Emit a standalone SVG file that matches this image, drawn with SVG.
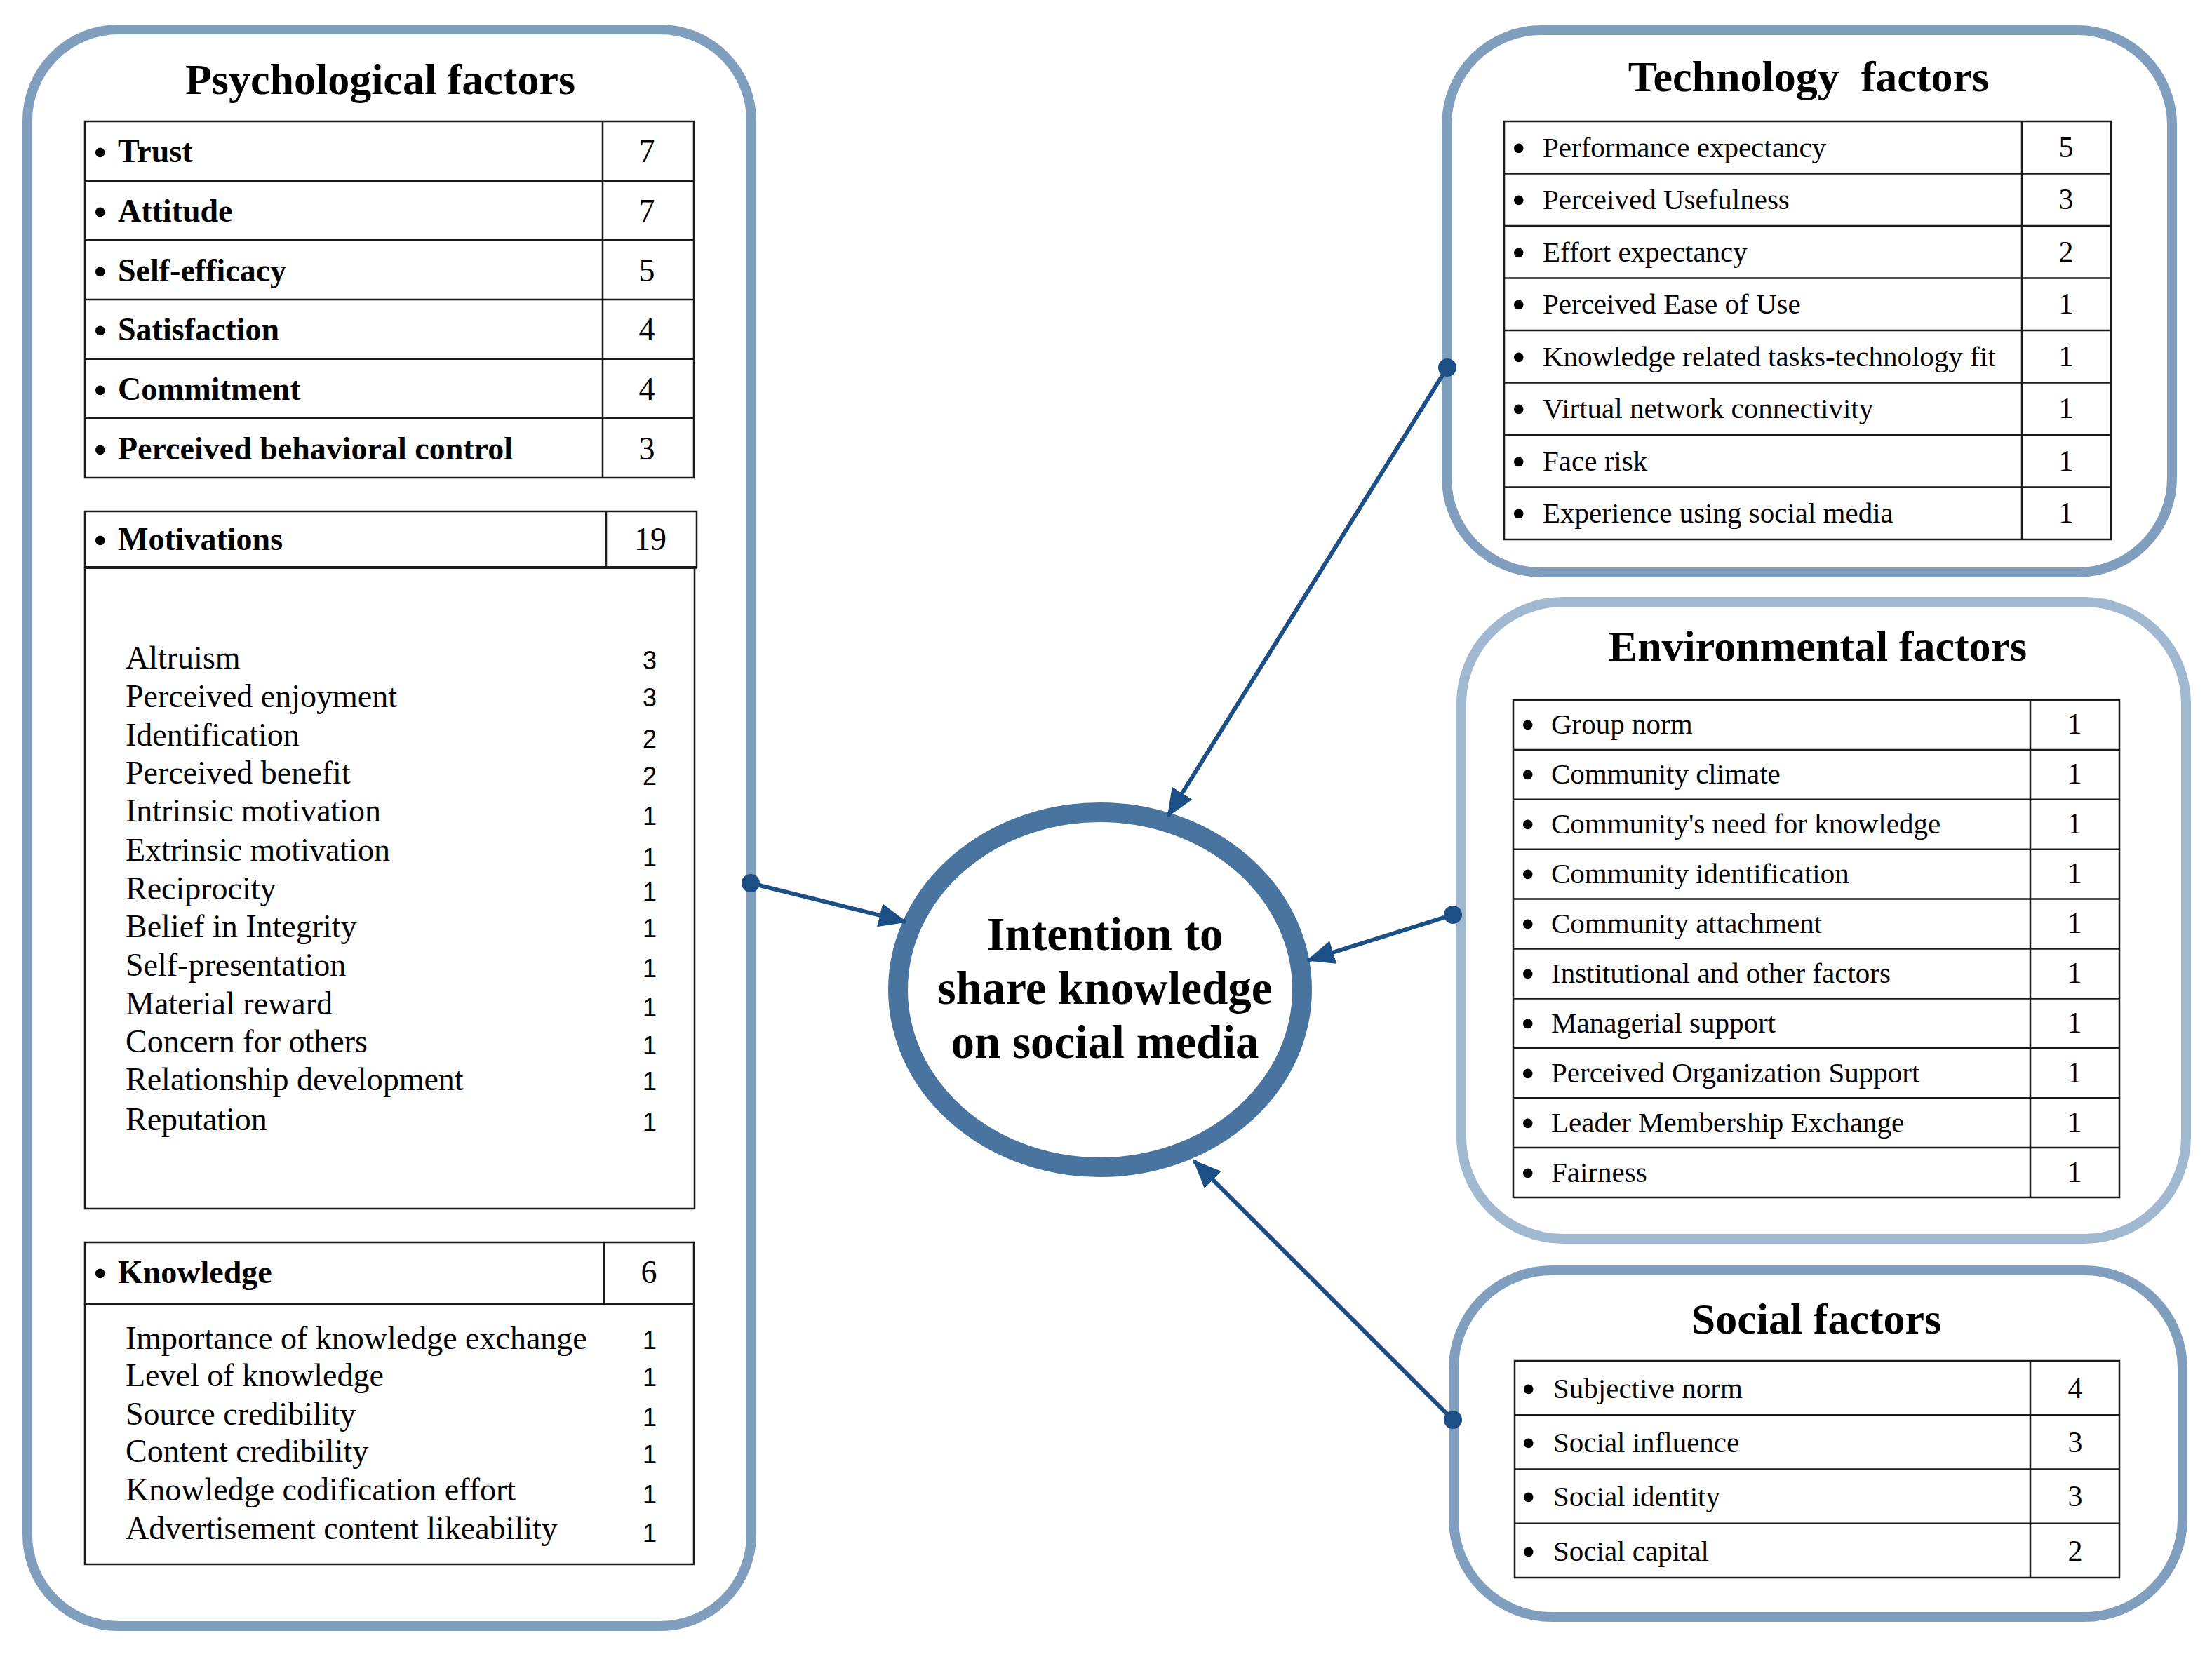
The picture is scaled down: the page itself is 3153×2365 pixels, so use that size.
<svg xmlns="http://www.w3.org/2000/svg" width="3153" height="2365" viewBox="0 0 3153 2365">
<style>
.box{fill:#fff;stroke:#809fbf;stroke-width:14}
.boxl{fill:#fff;stroke:#a0b9d1;stroke-width:14}
.tb{fill:none;stroke:#1a1a1a;stroke-width:2.5}
.hb{stroke:#1a1a1a;stroke-width:4}
.title{font-family:"Liberation Serif","Times New Roman",serif;font-weight:bold;font-size:62px;text-anchor:middle;fill:#000}
.mb{font-family:"Liberation Serif","Times New Roman",serif;font-weight:bold;font-size:46px;fill:#000}
.sub{font-family:"Liberation Serif","Times New Roman",serif;font-size:46px;fill:#000}
.subn{font-family:"Liberation Sans",Arial,sans-serif;font-size:36px;fill:#000;text-anchor:middle}
.num{font-family:"Liberation Serif","Times New Roman",serif;font-size:46px;fill:#000;text-anchor:middle}
.it{font-family:"Liberation Serif","Times New Roman",serif;font-size:41px;fill:#000}
.bu{font-size:50px;font-weight:bold}
.itn{font-family:"Liberation Serif","Times New Roman",serif;font-size:42px;fill:#000;text-anchor:middle}
.center{font-family:"Liberation Serif","Times New Roman",serif;font-weight:bold;font-size:67px;text-anchor:middle;fill:#000}
.conn{stroke:#1c4f85;stroke-width:6;fill:none}
.dot{fill:#1c4f85}
</style>
<defs>
<marker id="ah" markerUnits="userSpaceOnUse" markerWidth="40" markerHeight="34" refX="38" refY="17" orient="auto">
<path d="M0,0 L40,17 L0,34 z" fill="#1c4f85"/>
</marker>
</defs>

<g id="psychological">
<rect class="box" x="39" y="42" width="1032" height="2276" rx="130" ry="130"/>
<text class="title" x="542" y="134">Psychological factors</text>
<rect class="tb" x="121" y="173" width="868" height="508"/>
<line class="tb" x1="859" y1="173" x2="859" y2="681"/>
<line class="tb" x1="121" y1="257.7" x2="989" y2="257.7"/>
<line class="tb" x1="121" y1="342.3" x2="989" y2="342.3"/>
<line class="tb" x1="121" y1="427" x2="989" y2="427"/>
<line class="tb" x1="121" y1="511.7" x2="989" y2="511.7"/>
<line class="tb" x1="121" y1="596.3" x2="989" y2="596.3"/>
<text class="mb" y="231"><tspan x="134" dy="3" class="bu">•</tspan><tspan x="168" dy="-3">Trust</tspan></text>
<text class="mb" y="316"><tspan x="134" dy="3" class="bu">•</tspan><tspan x="168" dy="-3">Attitude</tspan></text>
<text class="mb" y="401"><tspan x="134" dy="3" class="bu">•</tspan><tspan x="168" dy="-3">Self-efficacy</tspan></text>
<text class="mb" y="485"><tspan x="134" dy="3" class="bu">•</tspan><tspan x="168" dy="-3">Satisfaction</tspan></text>
<text class="mb" y="570"><tspan x="134" dy="3" class="bu">•</tspan><tspan x="168" dy="-3">Commitment</tspan></text>
<text class="mb" y="655"><tspan x="134" dy="3" class="bu">•</tspan><tspan x="168" dy="-3">Perceived behavioral control</tspan></text>
<text class="num" x="922" y="231">7</text>
<text class="num" x="922" y="316">7</text>
<text class="num" x="922" y="401">5</text>
<text class="num" x="922" y="485">4</text>
<text class="num" x="922" y="570">4</text>
<text class="num" x="922" y="655">3</text>

<rect class="tb" x="121" y="729" width="872" height="80"/>
<line class="tb" x1="864" y1="729" x2="864" y2="809"/>
<rect class="tb" x="121" y="809" width="869" height="914"/>
<line class="hb" x1="121" y1="809" x2="993" y2="809"/>
<text class="mb" y="784"><tspan x="134" dy="3" class="bu">•</tspan><tspan x="168" dy="-3">Motivations</tspan></text>
<text class="num" x="927" y="784">19</text>
<text class="sub" x="179" y="953">Altruism</text>
<text class="sub" x="179" y="1008">Perceived enjoyment</text>
<text class="sub" x="179" y="1063">Identification</text>
<text class="sub" x="179" y="1117">Perceived benefit</text>
<text class="sub" x="179" y="1171">Intrinsic motivation</text>
<text class="sub" x="179" y="1227">Extrinsic motivation</text>
<text class="sub" x="179" y="1282">Reciprocity</text>
<text class="sub" x="179" y="1336">Belief in Integrity</text>
<text class="sub" x="179" y="1391">Self-presentation</text>
<text class="sub" x="179" y="1446">Material reward</text>
<text class="sub" x="179" y="1500">Concern for others</text>
<text class="sub" x="179" y="1554">Relationship development</text>
<text class="sub" x="179" y="1611">Reputation</text>
<text class="subn" x="926" y="954">3</text>
<text class="subn" x="926" y="1007">3</text>
<text class="subn" x="926" y="1066">2</text>
<text class="subn" x="926" y="1119">2</text>
<text class="subn" x="926" y="1176">1</text>
<text class="subn" x="926" y="1235">1</text>
<text class="subn" x="926" y="1284">1</text>
<text class="subn" x="926" y="1336">1</text>
<text class="subn" x="926" y="1393">1</text>
<text class="subn" x="926" y="1449">1</text>
<text class="subn" x="926" y="1503">1</text>
<text class="subn" x="926" y="1554">1</text>
<text class="subn" x="926" y="1612">1</text>

<rect class="tb" x="121" y="1771" width="868" height="88"/>
<line class="tb" x1="861" y1="1771" x2="861" y2="1859"/>
<rect class="tb" x="121" y="1859" width="868" height="371"/>
<line class="hb" x1="121" y1="1859" x2="989" y2="1859"/>
<text class="mb" y="1829"><tspan x="134" dy="3" class="bu">•</tspan><tspan x="168" dy="-3">Knowledge</tspan></text>
<text class="num" x="925" y="1829">6</text>
<text class="sub" x="179" y="1923">Importance of knowledge exchange</text>
<text class="sub" x="179" y="1976">Level of knowledge</text>
<text class="sub" x="179" y="2031">Source credibility</text>
<text class="sub" x="179" y="2084">Content credibility</text>
<text class="sub" x="179" y="2139">Knowledge codification effort</text>
<text class="sub" x="179" y="2194">Advertisement content likeability</text>
<text class="subn" x="926" y="1923">1</text>
<text class="subn" x="926" y="1976">1</text>
<text class="subn" x="926" y="2033">1</text>
<text class="subn" x="926" y="2086">1</text>
<text class="subn" x="926" y="2143">1</text>
<text class="subn" x="926" y="2198">1</text>
</g>

<g id="technology">
<rect class="box" x="2062" y="43" width="1034" height="773" rx="135" ry="135"/>
<text class="title" x="2578" y="130" xml:space="preserve">Technology  factors</text>
<rect class="tb" x="2144" y="173" width="865" height="596"/>
<line class="tb" x1="2882" y1="173" x2="2882" y2="769"/>
<line class="tb" x1="2144" y1="247.5" x2="3009" y2="247.5"/>
<line class="tb" x1="2144" y1="322" x2="3009" y2="322"/>
<line class="tb" x1="2144" y1="396.5" x2="3009" y2="396.5"/>
<line class="tb" x1="2144" y1="471" x2="3009" y2="471"/>
<line class="tb" x1="2144" y1="545.5" x2="3009" y2="545.5"/>
<line class="tb" x1="2144" y1="620" x2="3009" y2="620"/>
<line class="tb" x1="2144" y1="694.5" x2="3009" y2="694.5"/>
<text class="it" y="224"><tspan x="2156" dy="4" class="bu">•</tspan><tspan x="2199" dy="-4">Performance expectancy</tspan></text>
<text class="it" y="298"><tspan x="2156" dy="4" class="bu">•</tspan><tspan x="2199" dy="-4">Perceived Usefulness</tspan></text>
<text class="it" y="373"><tspan x="2156" dy="4" class="bu">•</tspan><tspan x="2199" dy="-4">Effort expectancy</tspan></text>
<text class="it" y="447"><tspan x="2156" dy="4" class="bu">•</tspan><tspan x="2199" dy="-4">Perceived Ease of Use</tspan></text>
<text class="it" y="522"><tspan x="2156" dy="4" class="bu">•</tspan><tspan x="2199" dy="-4">Knowledge related tasks-technology fit</tspan></text>
<text class="it" y="596"><tspan x="2156" dy="4" class="bu">•</tspan><tspan x="2199" dy="-4">Virtual network connectivity</tspan></text>
<text class="it" y="671"><tspan x="2156" dy="4" class="bu">•</tspan><tspan x="2199" dy="-4">Face risk</tspan></text>
<text class="it" y="745"><tspan x="2156" dy="4" class="bu">•</tspan><tspan x="2199" dy="-4">Experience using social media</tspan></text>
<text class="itn" x="2945" y="224">5</text>
<text class="itn" x="2945" y="298">3</text>
<text class="itn" x="2945" y="373">2</text>
<text class="itn" x="2945" y="447">1</text>
<text class="itn" x="2945" y="522">1</text>
<text class="itn" x="2945" y="596">1</text>
<text class="itn" x="2945" y="671">1</text>
<text class="itn" x="2945" y="745">1</text>
</g>

<g id="environmental">
<rect class="boxl" x="2083" y="858" width="1033" height="908" rx="145" ry="145"/>
<text class="title" x="2591" y="942">Environmental factors</text>
<rect class="tb" x="2157" y="998" width="864" height="709"/>
<line class="tb" x1="2894" y1="998" x2="2894" y2="1707"/>
<line class="tb" x1="2157" y1="1068.9" x2="3021" y2="1068.9"/>
<line class="tb" x1="2157" y1="1139.8" x2="3021" y2="1139.8"/>
<line class="tb" x1="2157" y1="1210.7" x2="3021" y2="1210.7"/>
<line class="tb" x1="2157" y1="1281.6" x2="3021" y2="1281.6"/>
<line class="tb" x1="2157" y1="1352.5" x2="3021" y2="1352.5"/>
<line class="tb" x1="2157" y1="1423.4" x2="3021" y2="1423.4"/>
<line class="tb" x1="2157" y1="1494.3" x2="3021" y2="1494.3"/>
<line class="tb" x1="2157" y1="1565.2" x2="3021" y2="1565.2"/>
<line class="tb" x1="2157" y1="1636.1" x2="3021" y2="1636.1"/>
<text class="it" y="1046"><tspan x="2169" dy="4" class="bu">•</tspan><tspan x="2211" dy="-4">Group norm</tspan></text>
<text class="it" y="1117"><tspan x="2169" dy="4" class="bu">•</tspan><tspan x="2211" dy="-4">Community climate</tspan></text>
<text class="it" y="1188"><tspan x="2169" dy="4" class="bu">•</tspan><tspan x="2211" dy="-4">Community's need for knowledge</tspan></text>
<text class="it" y="1259"><tspan x="2169" dy="4" class="bu">•</tspan><tspan x="2211" dy="-4">Community identification</tspan></text>
<text class="it" y="1330"><tspan x="2169" dy="4" class="bu">•</tspan><tspan x="2211" dy="-4">Community attachment</tspan></text>
<text class="it" y="1401"><tspan x="2169" dy="4" class="bu">•</tspan><tspan x="2211" dy="-4">Institutional and other factors</tspan></text>
<text class="it" y="1472"><tspan x="2169" dy="4" class="bu">•</tspan><tspan x="2211" dy="-4">Managerial support</tspan></text>
<text class="it" y="1543"><tspan x="2169" dy="4" class="bu">•</tspan><tspan x="2211" dy="-4">Perceived Organization Support</tspan></text>
<text class="it" y="1614"><tspan x="2169" dy="4" class="bu">•</tspan><tspan x="2211" dy="-4">Leader Membership Exchange</tspan></text>
<text class="it" y="1685"><tspan x="2169" dy="4" class="bu">•</tspan><tspan x="2211" dy="-4">Fairness</tspan></text>
<text class="itn" x="2957" y="1046">1</text>
<text class="itn" x="2957" y="1117">1</text>
<text class="itn" x="2957" y="1188">1</text>
<text class="itn" x="2957" y="1259">1</text>
<text class="itn" x="2957" y="1330">1</text>
<text class="itn" x="2957" y="1401">1</text>
<text class="itn" x="2957" y="1472">1</text>
<text class="itn" x="2957" y="1543">1</text>
<text class="itn" x="2957" y="1614">1</text>
<text class="itn" x="2957" y="1685">1</text>
</g>

<g id="social">
<rect class="box" x="2072" y="1811" width="1039" height="494" rx="140" ry="140"/>
<text class="title" x="2589" y="1901">Social factors</text>
<rect class="tb" x="2159" y="1940" width="862" height="309"/>
<line class="tb" x1="2894" y1="1940" x2="2894" y2="2249"/>
<line class="tb" x1="2159" y1="2017.25" x2="3021" y2="2017.25"/>
<line class="tb" x1="2159" y1="2094.5" x2="3021" y2="2094.5"/>
<line class="tb" x1="2159" y1="2171.75" x2="3021" y2="2171.75"/>
<text class="it" y="1993"><tspan x="2170" dy="4" class="bu">•</tspan><tspan x="2214" dy="-4">Subjective norm</tspan></text>
<text class="it" y="2070"><tspan x="2170" dy="4" class="bu">•</tspan><tspan x="2214" dy="-4">Social influence</tspan></text>
<text class="it" y="2147"><tspan x="2170" dy="4" class="bu">•</tspan><tspan x="2214" dy="-4">Social identity</tspan></text>
<text class="it" y="2225"><tspan x="2170" dy="4" class="bu">•</tspan><tspan x="2214" dy="-4">Social capital</tspan></text>
<text class="itn" x="2958" y="1993">4</text>
<text class="itn" x="2958" y="2070">3</text>
<text class="itn" x="2958" y="2147">3</text>
<text class="itn" x="2958" y="2225">2</text>
</g>

<g id="intention">
<ellipse cx="1568" cy="1411" rx="288" ry="253" fill="#fff" stroke="#4a74a0" stroke-width="28"/>
<text class="center" x="1575" y="1354">Intention to</text>
<text class="center" x="1575" y="1431">share knowledge</text>
<text class="center" x="1575" y="1508">on social media</text>
</g>

<g id="connectors">
<line class="conn" x1="1070" y1="1259" x2="1291" y2="1314" marker-end="url(#ah)"/>
<circle class="dot" cx="1070" cy="1259" r="13"/>
<line class="conn" x1="2063" y1="524" x2="1665" y2="1163" marker-end="url(#ah)"/>
<circle class="dot" cx="2063" cy="524" r="13"/>
<line class="conn" x1="2071" y1="1304" x2="1864" y2="1369" marker-end="url(#ah)"/>
<circle class="dot" cx="2071" cy="1304" r="13"/>
<line class="conn" x1="2071" y1="2024" x2="1702" y2="1655" marker-end="url(#ah)"/>
<circle class="dot" cx="2071" cy="2024" r="13"/>
</g>
</svg>
